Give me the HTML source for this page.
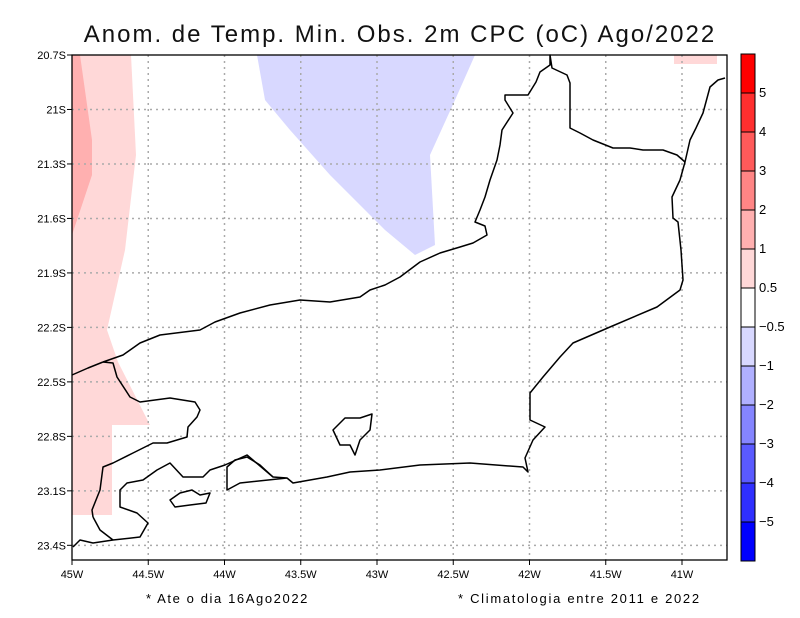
<!DOCTYPE html>
<html><head><meta charset="utf-8"><style>
body{margin:0;background:#fff;}
svg{display:block;font-family:"Liberation Sans",sans-serif;}
</style></head><body>
<svg id="c" width="800" height="618" viewBox="0 0 800 618">
<text x="400" y="42" font-size="24" text-anchor="middle" fill="#111" style="letter-spacing:2px">Anom. de Temp. Min. Obs. 2m CPC (oC) Ago/2022</text>
<g>
<polygon fill="#ffd8d8" points="72,55 131,55 136,155 125,250 107,330 118,362 150,425 112,425 112,515 72,515"/>
<polygon fill="#ffb0b0" points="72,55 80,55 92,140 92,175 72,235"/>
<polygon fill="#d8d8ff" points="257,55 475,55 455,100 430,155 435,245 415,255 385,230 330,175 290,130 265,100"/>
<polygon fill="#ffd8d8" points="674,55 717,55 717,64 674,64"/>
</g>
<g id="grid"></g>
<g fill="none" stroke="#000" stroke-width="1.5" stroke-linejoin="round">
<polyline points="72,375 88,368 103,362"/>
<polyline points="103,362 123,355 140,343 160,335 200,330 215,322 240,313 270,305 300,300 330,302 360,297 370,290 385,285 400,277 420,262 440,253 460,247 473,243 487,235 485,226 475,222 480,210 485,197 490,180 497,160 500,145 502,130 513,113 505,100 505,95 528,95 536,82 540,72 550,65 550,55 552,68 567,75 570,83 570,128 580,133 593,140 613,148 630,148 643,150 663,150 677,155 685,162"/>
<polyline points="725,78 718,80 710,87 703,113 696,128 690,140 685,162 680,180 672,197 673,218 678,222 681,250 683,280 680,290 657,307 610,327 573,343 560,357 543,377 530,393 530,420 545,427 533,440 525,458 528,472 523,467 470,463 420,465 380,470 350,472 327,477 293,483 287,478 273,477 260,465 247,457 235,460 227,467 227,490 240,483 287,478"/>
<polyline points="103,362 113,363 117,377 130,397 140,402 170,398 195,402 200,410 197,417 188,427 187,437 167,443 153,443 133,453 113,463 103,467 100,490 92,510 93,517"/>
<polyline points="273,477 247,455 225,465 210,470 203,477 183,477 170,463 157,470 143,480 127,483 120,490 120,507 137,513 148,523 140,537 113,540 93,543 80,540 73,547"/>
<polyline points="93,517 100,530 113,540"/>
<polygon points="333,430 345,418 360,418 372,414 370,430 360,440 355,455 350,445 340,445"/>
<polygon points="170,500 180,493 192,490 200,495 210,493 206,503 190,505 175,507"/>
</g>
<rect x="72" y="55" width="655" height="505" fill="none" stroke="#000" stroke-width="1.3"/>
<g id="axes"></g>
<g id="cbar"></g>
<text x="146" y="603" font-size="13" style="letter-spacing:1.6px">* Ate o dia 16Ago2022</text>
<text x="458" y="603" font-size="13" style="letter-spacing:1.7px">* Climatologia entre 2011 e 2022</text>
</svg>
<script>
const lonTicks=["45W","44.5W","44W","43.5W","43W","42.5W","42W","41.5W","41W"];
const lonVals=[-45,-44.5,-44,-43.5,-43,-42.5,-42,-41.5,-41];
const latTicks=["20.7S","21S","21.3S","21.6S","21.9S","22.2S","22.5S","22.8S","23.1S","23.4S"];
const latVals=[-20.7,-21,-21.3,-21.6,-21.9,-22.2,-22.5,-22.8,-23.1,-23.4];
const cbarColors=["#ff0000","#ff2f2f","#ff5a5a","#ff8585","#ffb0b0","#ffd8d8","#ffffff","#d8d8ff","#b0b0ff","#8585ff","#5a5aff","#2f2fff","#0000ff"];
const cbarLabels=["5","4","3","2","1","0.5","\u22120.5","\u22121","\u22122","\u22123","\u22124","\u22125"];
const NS="http://www.w3.org/2000/svg";
const xs=lon=>72+(lon+45)*152.5;
const ys=lat=>55+(-20.7-lat)*181.6;
function mk(t,a,p){const e=document.createElementNS(NS,t);for(const k in a)e.setAttribute(k,a[k]);p.appendChild(e);return e;}
const grid=document.getElementById('grid'),axes=document.getElementById('axes'),cb=document.getElementById('cbar');
lonVals.forEach((v,i)=>{const x=xs(v);
 if(i>0){const l=mk('line',{x1:x,x2:x,y1:55,y2:560,stroke:'#aaa','stroke-dasharray':'2,4','stroke-width':1.5},grid);
 
 }
 const tk=mk('line',{x1:x,x2:x,y1:560,y2:565,stroke:'#000'},axes);
 
 
 const t=mk('text',{x:x,y:578,'font-size':11,'text-anchor':'middle'},axes);t.textContent=lonTicks[i];
 
 });
latVals.forEach((v,i)=>{const y=ys(v);
 if(i>0){const l=mk('line',{x1:72,x2:727,y1:y,y2:y,stroke:'#aaa','stroke-dasharray':'2,4','stroke-width':1.5},grid);
 
 }
 const tk=mk('line',{x1:67,x2:72,y1:y,y2:y,stroke:'#000'},axes);
 
 
 const t=mk('text',{x:66,y:y+4,'font-size':11,'text-anchor':'end'},axes);t.textContent=latTicks[i];
 
 });
const cy0=54,ch=(561-54)/cbarColors.length;
cbarColors.forEach((c,i)=>{const r=mk('rect',{x:741,y:cy0+i*ch,width:14,height:ch,fill:c,stroke:'#000','stroke-width':1},cb);
 
 });
cbarLabels.forEach((s,i)=>{const t=mk('text',{x:759,y:cy0+(i+1)*ch+4,'font-size':13},cb);t.textContent=s;
 
 });
</script>
</body></html>
